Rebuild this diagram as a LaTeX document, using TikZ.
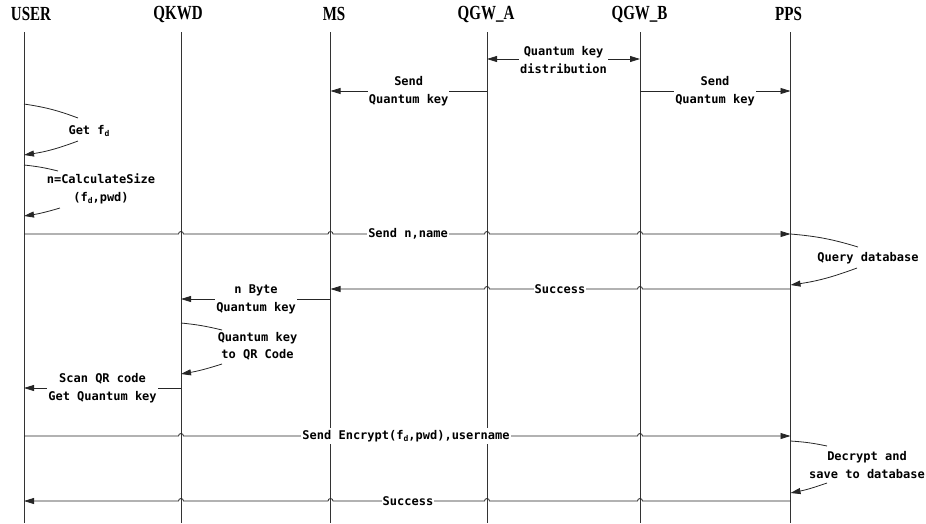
\documentclass[tikz,border=0pt]{standalone}
\usepackage{graphicx}
\usepackage{fontspec}
\setmainfont{DejaVu Sans Mono}
\newfontfamily\headfont{Liberation Serif}
\usetikzlibrary{arrows.meta,calc}

% f with subscript d
\newcommand{\fdsub}{f\raisebox{-2.5pt}{\fontsize{8}{8}\selectfont d}}
% participant title, condensed
\newcommand{\headtxt}[1]{\scalebox{0.75}[1]{#1}}

\begin{document}
\begin{tikzpicture}[x=1pt,y=-1pt,
  every node/.style={inner sep=0pt},
  head/.style={font=\headfont\bfseries\fontsize{20}{20}\selectfont},
  life/.style={line width=0.8pt, black!80},
  plain/.style={line width=0.8pt, black!85},
  msg/.style={plain, -{Triangle[length=10pt,width=6pt]}},
  dmsg/.style={plain, {Triangle[length=10pt,width=6pt]}-{Triangle[length=10pt,width=6pt]}},
  lbl/.style={fill=white, inner sep=1pt, align=center,
              font=\bfseries\fontsize{12}{17.5}\selectfont},
]
\useasboundingbox (0,0) rectangle (926,523);

% participants
\node[head] (USER) at (31,14)    {\headtxt{USER}};
\node[head] (QKWD) at (178,14)   {\headtxt{QKWD}};
\node[head] (MS)   at (334,14)   {\headtxt{MS}};
\node[head] (QGWA) at (486,14)   {\headtxt{QGW\_A}};
\node[head] (QGWB) at (639.5,14) {\headtxt{QGW\_B}};
\node[head] (PPS)  at (788.5,14) {\headtxt{PPS}};

% lifelines
\coordinate (uT) at (24,32);    \coordinate (uB) at (24,523);
\coordinate (kT) at (181,32);   \coordinate (kB) at (181,523);
\coordinate (mT) at (330.5,32); \coordinate (mB) at (330.5,523);
\coordinate (aT) at (487,32);   \coordinate (aB) at (487,523);
\coordinate (bT) at (640,32);   \coordinate (bB) at (640,523);
\coordinate (pT) at (790.5,32); \coordinate (pB) at (790.5,523);
\foreach \t/\b in {uT/uB,kT/kB,mT/mB,aT/aB,bT/bB,pT/pB}
  \draw[life] (\t) -- (\b);

% quantum key distribution between the gateways
\draw[dmsg] (aT |- 0,59) -- (bT |- 0,59);
\node[lbl] (qkd) at (563.5,60) {Quantum key\\distribution};

% gateways hand keys to MS and PPS
\draw[msg] (aT |- 0,91) -- (mT |- 0,91);
\node[lbl] (sqk1) at (408.7,91) {Send\\Quantum key};
\draw[msg] (bT |- 0,91) -- (pT |- 0,91);
\node[lbl] (sqk2) at (715,91) {Send\\Quantum key};

% Get f_d (self)
\coordinate (gf1) at (78,118);
\coordinate (gf2) at (78,141);
\draw[plain] (uT |- 0,104) to[bend left=6] (gf1);
\draw[msg] (gf2) to[bend left=6] (uT |- 0,155);
\node[lbl] (getfd) at (89,131) {Get \fdsub};

% n=CalculateSize (self)
\coordinate (cs1) at (58,171);
\coordinate (cs2) at (60,208);
\draw[plain] (uT |- 0,165) to[bend left=4] (cs1);
\draw[msg] (cs2) to[bend left=4] (uT |- 0,216);
\node[lbl] (calc) at (101,189) {n=CalculateSize\\(\fdsub,pwd)};

% Send n,name : USER -> PPS, hopping over lifelines
\draw[msg] (uT |- 0,234)
  -- ($(kT |- 0,234)+(-2.5pt,0)$) arc[start angle=180,end angle=0,radius=2.5pt]
  -- ($(mT |- 0,234)+(-2.5pt,0)$) arc[start angle=180,end angle=0,radius=2.5pt]
  -- ($(aT |- 0,234)+(-2.5pt,0)$) arc[start angle=180,end angle=0,radius=2.5pt]
  -- ($(bT |- 0,234)+(-2.5pt,0)$) arc[start angle=180,end angle=0,radius=2.5pt]
  -- (pT |- 0,234);
\node[lbl] (sendn) at (408,234) {Send n,name};

% Query database (self)
\coordinate (qd1) at (858,247);
\coordinate (qd2) at (857,268);
\draw[plain] (pT |- 0,234) to[bend left=6] (qd1);
\draw[msg] (qd2) to[bend left=6] (pT |- 0,285);
\node[lbl] (query) at (868,258) {Query database};

% Success : PPS -> MS
\draw[msg] (pT |- 0,289)
  -- ($(bT |- 0,289)+(2.5pt,0)$) arc[start angle=0,end angle=180,radius=2.5pt]
  -- ($(aT |- 0,289)+(2.5pt,0)$) arc[start angle=0,end angle=180,radius=2.5pt]
  -- (mT |- 0,289);
\node[lbl] (succ1) at (560,289) {Success};

% n Byte Quantum key : MS -> QKWD
\draw[msg] (mT |- 0,299) -- (kT |- 0,299);
\node[lbl] (nbyte) at (256,299.5) {n Byte\\Quantum key};

% Quantum key to QR Code (self)
\coordinate (qr1) at (222,330);
\coordinate (qr2) at (222,364);
\draw[plain] (kT |- 0,323) to[bend left=4] (qr1);
\draw[msg] (qr2) to[bend left=4] (kT |- 0,374);
\node[lbl] (qrcode) at (257.5,346.5) {Quantum key\\to QR Code};

% Scan QR code : QKWD -> USER
\draw[msg] (kT |- 0,388) -- (uT |- 0,388);
\node[lbl] (scan) at (102.5,388) {Scan QR code\\Get Quantum key};

% Send Encrypt : USER -> PPS
\draw[msg] (uT |- 0,436)
  -- ($(kT |- 0,436)+(-2.5pt,0)$) arc[start angle=180,end angle=0,radius=2.5pt]
  -- ($(bT |- 0,436)+(-2.5pt,0)$) arc[start angle=180,end angle=0,radius=2.5pt]
  -- (pT |- 0,436);
\node[lbl, inner ysep=2pt] (enc) at (406,436) {Send Encrypt(\fdsub,pwd),username};

% Decrypt and save (self)
\coordinate (dc1) at (827,446);
\coordinate (dc2) at (827,483);
\draw[plain] (pT |- 0,441) to[bend left=4] (dc1);
\draw[msg] (dc2) to[bend left=4] (pT |- 0,493);
\node[lbl] (decrypt) at (867,465) {Decrypt and\\save to database};

% Success : PPS -> USER
\draw[msg] (pT |- 0,501)
  -- ($(bT |- 0,501)+(2.5pt,0)$) arc[start angle=0,end angle=180,radius=2.5pt]
  -- ($(aT |- 0,501)+(2.5pt,0)$) arc[start angle=0,end angle=180,radius=2.5pt]
  -- ($(mT |- 0,501)+(2.5pt,0)$) arc[start angle=0,end angle=180,radius=2.5pt]
  -- ($(kT |- 0,501)+(2.5pt,0)$) arc[start angle=0,end angle=180,radius=2.5pt]
  -- (uT |- 0,501);
\node[lbl] (succ2) at (408,501) {Success};
\end{tikzpicture}
\end{document}
